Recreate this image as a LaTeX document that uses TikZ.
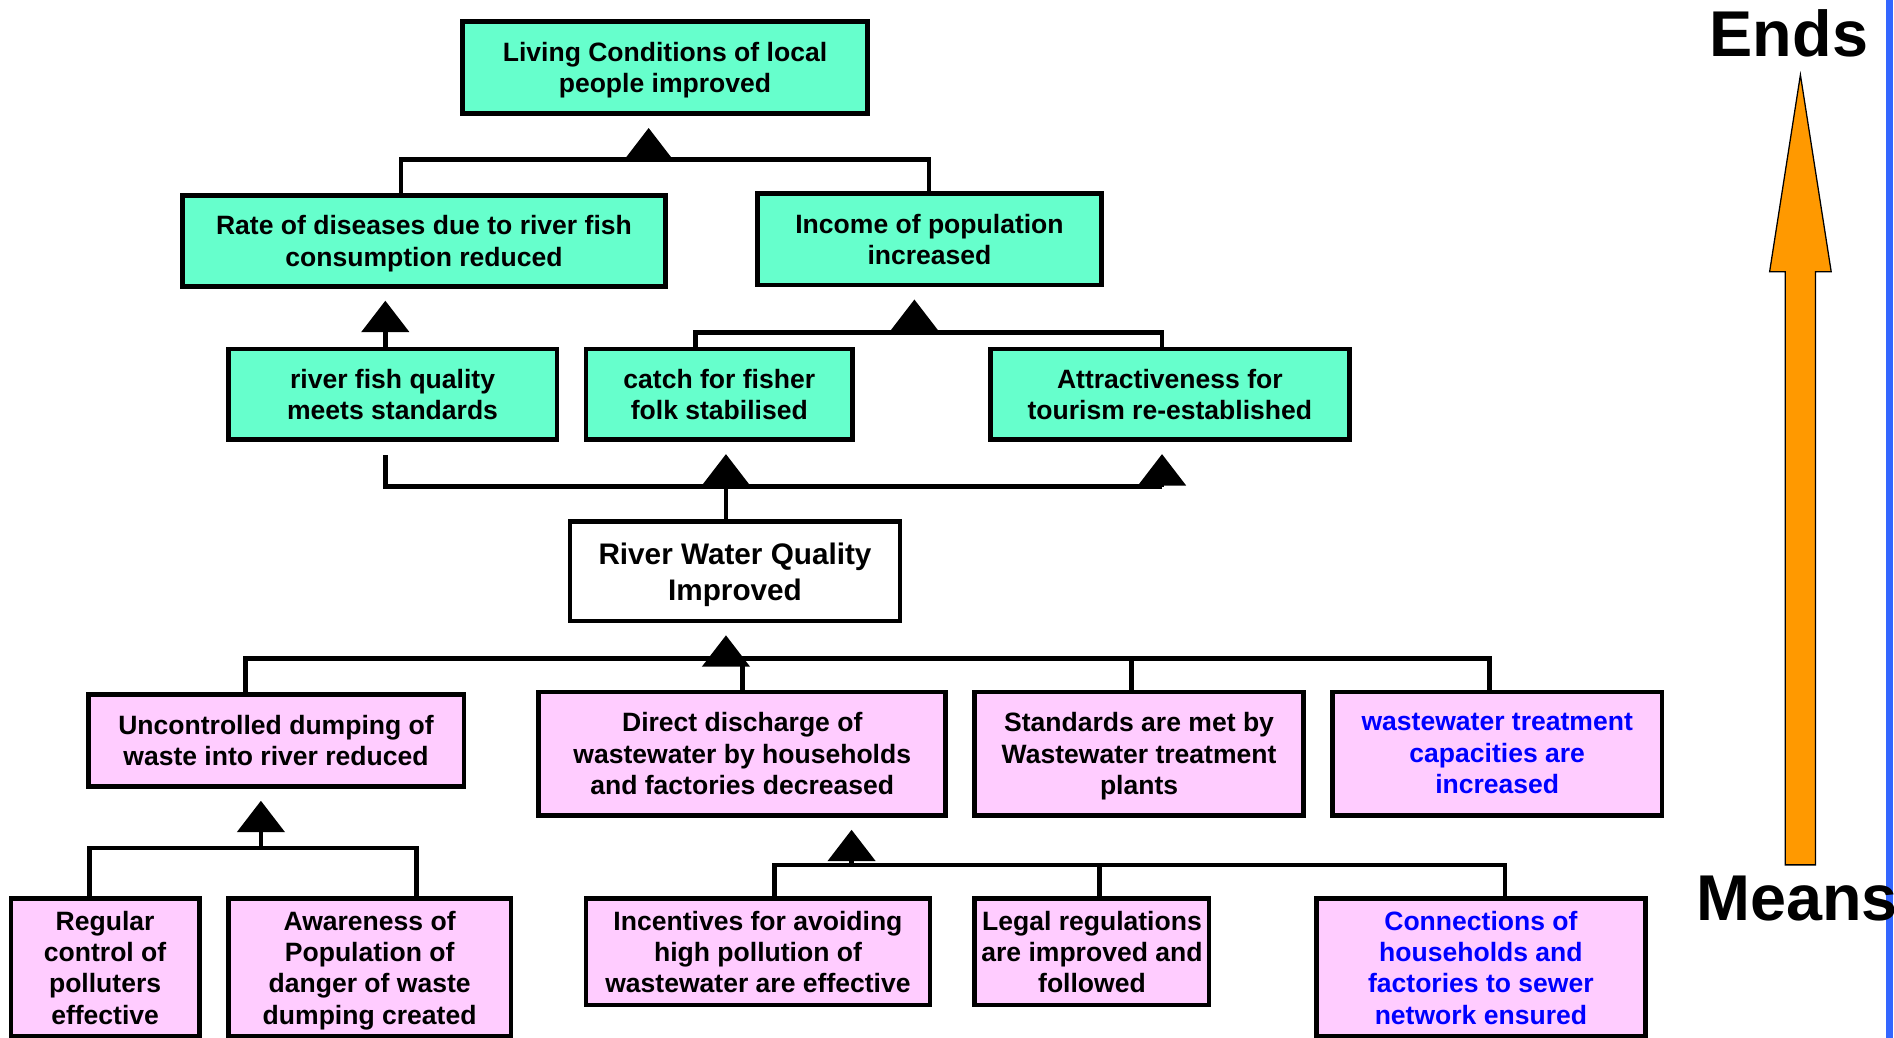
\documentclass[tikz,border=0pt]{standalone}
\usepackage{fontspec}
\setmainfont{Liberation Sans}
\usepackage{tikz}
\usetikzlibrary{%
  arrows.meta%
}
\definecolor{endfill}{RGB}{102,255,204}
\definecolor{meanfill}{RGB}{255,204,255}
\definecolor{orng}{RGB}{255,153,0}
\definecolor{rim}{RGB}{51,102,255}
\tikzset{
	box/.style={draw, line width=2.2pt, align=center, inner sep=2pt, text depth=-0.6pt, font=\bfseries\fontsize{12.5}{14.8}\selectfont},
	endbox/.style={box, fill=endfill},
	meanbox/.style={box, fill=meanfill},
	link/.style={line width=2.2pt},
	up/.style={link, shorten >=2mm, -{Triangle[width=7.8mm,length=5.2mm]}},
	bigword/.style={font=\bfseries\fontsize{30.5}{34}\selectfont}
}

\begin{document}
\begin{tikzpicture}
	\useasboundingbox (0,0) rectangle (31.36,-17.18);
	%Side line and arrow
	\draw[rim, line width=3.4pt] (31.28,0) -- (31.28,-17.18);
	\filldraw[fill=orng, draw=black, line width=0.6pt]
		(29.56,-14.32) -- (29.56,-4.50) -- (29.30,-4.50) -- (29.81,-1.24)
		-- (30.32,-4.50) -- (30.06,-4.50) -- (30.06,-14.32) -- cycle;
	\node[bigword] (ends) at (29.62,-0.56) {Ends};
	\node[bigword, anchor=west] (means) at (27.96,-14.88) {Means};
	%Nodes
	\node[endbox, minimum width=6.70cm, minimum height=1.52cm] (living) at (11.01,-1.12) {Living Conditions of local\\people improved};
	\node[endbox, minimum width=8.00cm, minimum height=1.50cm] (rate) at (7.02,-3.99) {Rate of diseases due to river fish\\consumption reduced};
	\node[endbox, minimum width=5.70cm, minimum height=1.52cm] (income) at (15.39,-3.96) {Income of population\\increased};
	\node[endbox, minimum width=5.44cm, minimum height=1.50cm] (fish) at (6.50,-6.53) {river fish quality\\meets standards};
	\node[endbox, minimum width=4.42cm, minimum height=1.50cm] (catch) at (11.91,-6.53) {catch for fisher\\folk stabilised};
	\node[endbox, minimum width=5.94cm, minimum height=1.50cm] (tourism) at (19.37,-6.53) {Attractiveness for\\tourism re-established};
	\node[box, fill=white, font=\bfseries\fontsize{14}{17}\selectfont, minimum width=5.46cm, minimum height=1.64cm] (water) at (12.17,-9.46) {River Water Quality\\Improved};
	\node[meanbox, minimum width=6.22cm, minimum height=1.52cm] (dumping) at (4.57,-12.26) {Uncontrolled dumping of\\waste into river reduced};
	\node[meanbox, minimum width=6.74cm, minimum height=2.04cm] (discharge) at (12.29,-12.48) {Direct discharge of\\wastewater by households\\and factories decreased};
	\node[meanbox, minimum width=5.44cm, minimum height=2.04cm] (standards) at (18.86,-12.48) {Standards are met by\\Wastewater treatment\\plants};
	\node[meanbox, text=blue, minimum width=5.46cm, minimum height=2.04cm] (capacity) at (24.79,-12.48) {wastewater treatment\\capacities are\\increased};
	\node[meanbox, minimum width=3.12cm, minimum height=2.28cm] (control) at (1.74,-16.02) {Regular\\control of\\polluters\\effective};
	\node[meanbox, minimum width=4.68cm, minimum height=2.28cm] (awareness) at (6.12,-16.02) {Awareness of\\Population of\\danger of waste\\dumping created};
	\node[meanbox, minimum width=5.70cm, minimum height=1.76cm] (incentive) at (12.55,-15.76) {Incentives for avoiding\\high pollution of\\wastewater are effective};
	\node[meanbox, minimum width=3.88cm, minimum height=1.76cm] (legal) at (18.08,-15.76) {Legal regulations\\are improved and\\followed};
	\node[meanbox, text=blue, minimum width=5.44cm, minimum height=2.28cm] (sewer) at (24.52,-16.02) {Connections of\\households and\\factories to sewer\\network ensured};
	%Bus points
	\coordinate (b1l) at (6.64,-2.64);
	\coordinate (b1m) at (10.74,-2.64);
	\coordinate (b1r) at (15.38,-2.64);
	\coordinate (b2m) at (6.38,-5.44);
	\coordinate (b3l) at (11.52,-5.50);
	\coordinate (b3m) at (15.14,-5.50);
	\coordinate (b3r) at (19.24,-5.50);
	\coordinate (b4l) at (6.38,-8.06);
	\coordinate (b4m) at (12.02,-8.06);
	\coordinate (b4r) at (19.24,-8.06);
	\coordinate (b5l) at (4.06,-10.90);
	\coordinate (b5m) at (12.02,-10.90);
	\coordinate (b5r) at (24.66,-10.90);
	\coordinate (b6l) at (1.48,-14.04);
	\coordinate (b6m) at (4.32,-14.04);
	\coordinate (b6r) at (6.90,-14.04);
	\coordinate (b7l) at (12.82,-14.32);
	\coordinate (b7m) at (14.10,-14.32);
	\coordinate (b7r) at (24.92,-14.32);
	%Upper links
	\draw[link] (rate.north -| b1l) -- (b1l) -- (b1r) -- (income.north -| b1r);
	\draw[up] (b1m) -- (b1m |- living.south);
	\draw[up] (fish.north -| b2m) -- (b2m |- rate.south);
	\draw[link] (catch.north -| b3l) -- (b3l) -- (b3r) -- (tourism.north -| b3r);
	\draw[up] (b3m) -- (b3m |- income.south);
	\draw[link, shorten >=2.2mm] (b4r) -- (b4l) -- (b4l |- fish.south);
	\draw[up] (b4r) -- (b4r |- tourism.south);
	\draw[up] (water.north -| b4m) -- (b4m |- catch.south);
	%Lower links
	\draw[link] (dumping.north -| b5l) -- (b5l) -- (b5r) -- (capacity.north -| b5r);
	\draw[link] (discharge.north) -- (discharge.north |- b5l);
	\draw[link] (18.74,-10.90) -- (standards.north -| 18.74,0);
	\draw[up] (b5m) -- (b5m |- water.south);
	\draw[link] (control.north -| b6l) -- (b6l) -- (b6r) -- (awareness.north -| b6r);
	\draw[up] (b6m) -- (b6m |- dumping.south);
	\draw[link] (incentive.north -| b7l) -- (b7l) -- (b7r) -- (sewer.north -| b7r);
	\draw[link] (18.20,-14.32) -- (legal.north -| 18.20,0);
	\draw[up] (b7m) -- (b7m |- discharge.south);
\end{tikzpicture}
\end{document}
